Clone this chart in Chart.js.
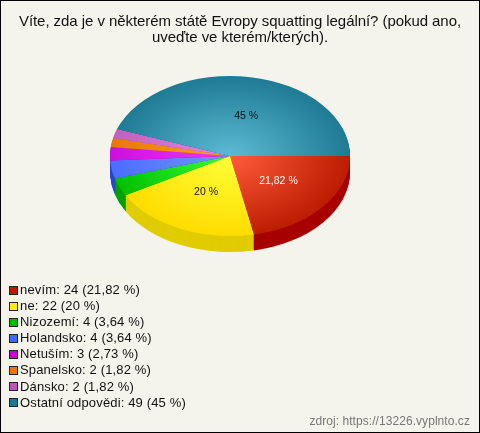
<!DOCTYPE html>
<html lang="cs">
<head>
<meta charset="UTF-8">
<title>Squatting</title>
<script src="https://cdn.jsdelivr.net/npm/chart.js"></script>
<style>
html,body{margin:0;padding:0;background:#f5f4ec}
#wrap{position:relative;width:478px;height:431px;border:1px solid #000;background:#f5f4ec;font-family:"Liberation Sans",Arial,sans-serif;overflow:hidden}
#c{position:absolute;left:-1px;top:-1px}
#title{position:absolute;left:0;top:12px;width:478px;text-align:center;font-size:15px;line-height:16px;letter-spacing:-0.06px;color:#111}
#legend{position:absolute;left:8px;top:281px;font-size:13px;letter-spacing:0.15px;color:#111}
#legend div{height:16.1px;line-height:16.1px;white-space:nowrap}
#legend i{display:inline-block;width:7px;height:7px;border:1px solid #222;margin-right:2px;vertical-align:-0.5px}
#src{position:absolute;right:9px;top:413px;font-size:12px;letter-spacing:0.06px;color:#777}
</style>
</head>
<body>
<div id="wrap">
<canvas id="c" width="480" height="433"></canvas>
<div id="title">Víte, zda je v některém státě Evropy squatting legální? (pokud ano,<br>uveďte ve kterém/kterých).</div>
<div id="legend"></div>
<div id="src">zdroj: https://13226.vyplnto.cz</div>
</div>
<script>
const labels=['nevím','ne','Nizozemí','Holandsko','Netuším','Spanelsko','Dánsko','Ostatní odpovědi'];
const values=[24,22,4,4,3,2,2,49];
const percents=['21,82','20','3,64','3,64','2,73','1,82','1,82','45'];
const showLabel=[true,true,false,false,false,false,false,true];
const labelColors=['#fff','#111','#111','#111','#111','#111','#111','#111'];
const inner=['#ff5c3c','#ffff38','#38ff38','#6c98ff','#ee38ff','#ffa028','#e488e8','#5cbcd4'];
const outer=['#bc1c00','#ffdc00','#00c000','#4c6cff','#cc10dc','#e87800','#c060c0','#1f7a94'];
const sides=['#a80000','#e0cc00','#00a000','#2848c8','#a000a8','#b85c00','#985098','#105c70'];
const swatches=['#c01800','#ffee00','#00b800','#4468ff','#cc00cc','#e87800','#b858b8','#1a7a90'];

const squash=80/120,depth=16;
const labelShift=[2,1,0,0,0,0,0,6];

document.getElementById('legend').innerHTML=labels.map((l,i)=>
    `<div><i style="background:${swatches[i]}"></i>${l}: ${values[i]} (${percents[i]} %)</div>`).join('');

// flatten the pie into an ellipse and draw the rim under it
const tilt={
    id:'tilt',
    beforeDatasetsDraw(chart){
        const ctx=chart.ctx,arcs=chart.getDatasetMeta(0).data;
        const cx=arcs[0].x,cy=arcs[0].y;
        ctx.save();
        ctx.translate(cx,cy);ctx.scale(1,squash);ctx.translate(-cx,-cy);
        for(let d=depth;d>0;d--){
            arcs.forEach((a,i)=>{
                ctx.fillStyle=sides[i];
                ctx.beginPath();
                ctx.moveTo(cx,cy+d/squash);
                ctx.arc(cx,cy+d/squash,a.outerRadius,a.startAngle,a.endAngle);
                ctx.closePath();
                ctx.fill();
            });
        }
    },
    afterDatasetsDraw(chart){
        const ctx=chart.ctx,arcs=chart.getDatasetMeta(0).data;
        ctx.restore();
        ctx.font='10.5px "Liberation Sans",Arial,sans-serif';
        ctx.textAlign='center';ctx.textBaseline='middle';
        arcs.forEach((a,i)=>{
            if(!showLabel[i])return;
            const m=(a.startAngle+a.endAngle)/2,r=a.outerRadius*0.5;
            ctx.fillStyle=labelColors[i];
            ctx.fillText(percents[i]+' %',a.x+Math.cos(m)*r+labelShift[i],a.y+Math.sin(m)*r*squash);
        });
    }
};

new Chart(document.getElementById('c'),{
    type:'pie',
    data:{labels:labels,datasets:[{
        data:values,
        borderWidth:0,
        backgroundColor(c){
            const a=c.chart.chartArea;
            if(!a)return inner[c.dataIndex];
            const x=(a.left+a.right)/2,y=(a.top+a.bottom)/2;
            const g=c.chart.ctx.createRadialGradient(x,y,0,x,y,120);
            g.addColorStop(0,inner[c.dataIndex]);
            g.addColorStop(1,outer[c.dataIndex]);
            return g;
        }
    }]},
    options:{
        responsive:false,
        animation:false,
        rotation:90,
        layout:{padding:{left:110,right:130,top:36,bottom:157}},
        plugins:{legend:{display:false},title:{display:false},tooltip:{enabled:false}}
    },
    plugins:[tilt]
});
</script>
</body>
</html>
